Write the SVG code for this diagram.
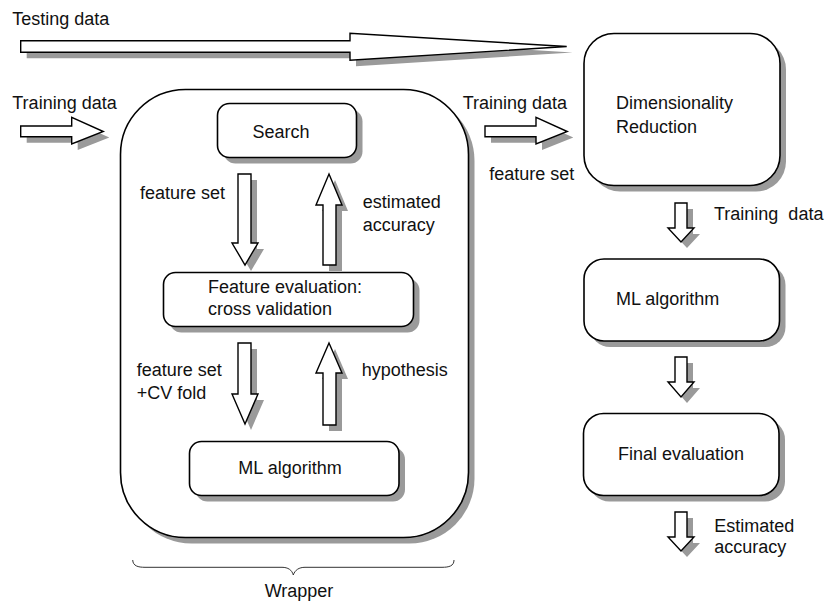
<svg xmlns="http://www.w3.org/2000/svg" xmlns:xlink="http://www.w3.org/1999/xlink" width="829" height="604" viewBox="0 0 829 604">
<style>
  .sh { fill: #9a9a9a; stroke: none; }
  .fg { fill: #ffffff; stroke: #000000; stroke-width: 1.4; stroke-linejoin: miter; }
  .box { fill: #ffffff; stroke: #000000; stroke-width: 1.6; }
  text { font-family: "Liberation Sans", Arial, sans-serif; font-size: 18px; fill: #111111; }
  .mid { text-anchor: middle; }
  .brace { fill: none; stroke: #333333; stroke-width: 1; }
</style>
<defs>
  <polygon id="a-test" points="20.7,40.7 350,40.7 350,33.3 566.7,46.5 350,60.3 350,52.3 20.7,52.3"/>
  <polygon id="a-trainL" points="20.7,126 71.7,126 71.7,117.3 103.3,131.5 71.7,144 71.7,136.7 20.7,136.7"/>
  <polygon id="a-trainR" points="485,126 536,126 536,117.3 567.3,131.5 536,144 536,136.7 485,136.7"/>
  <polygon id="a-d1" points="238,174 251,174 251,243 258,243 245,265 232,243 238,243"/>
  <polygon id="a-u1" points="329,174 342,205 336,205 336,265 323,265 323,205 316,205"/>
  <polygon id="a-d2" points="238,343 251,343 251,394 258,394 245,424 232,394 238,394"/>
  <polygon id="a-u2" points="329,343 342,373 336,373 336,425 323,425 323,373 316,373"/>
  <polygon id="a-r1" points="675,203 687,203 687,228 694,228 681,242 668,228 675,228"/>
  <polygon id="a-r2" points="675,357 687,357 687,382 694,382 681,397 668,382 675,382"/>
  <polygon id="a-r3" points="675,512 687,512 687,537 694,537 681,551 668,537 675,537"/>
</defs>

<g id="wrapper">
  <rect class="sh" x="126.5" y="95.5" width="348" height="448" rx="65" ry="65"/>
  <rect class="box" x="120.5" y="89.5" width="348" height="448" rx="65" ry="65"/>
  <path class="brace" d="M132.7,560 C133,566 138,567.3 145,567.3 L282,567.3 C288,567.3 292,570 293.3,575 C295,570 299,567.3 305,567.3 L442,567.3 C449,567.3 454,566 454,560"/>
  <text class="mid" x="299" y="597">Wrapper</text>
</g>

<g id="search">
  <rect class="sh" x="223.5" y="109.5" width="139" height="54" rx="12" ry="12"/>
  <rect class="box" x="217.5" y="103.5" width="139" height="54" rx="12" ry="12"/>
  <text class="mid" x="281" y="138">Search</text>
</g>

<g id="feature-eval">
  <rect class="sh" x="169.5" y="278.5" width="250" height="54" rx="12" ry="12"/>
  <rect class="box" x="163.5" y="272.5" width="250" height="54" rx="12" ry="12"/>
  <text x="208" y="292.7">Feature evaluation:</text>
  <text x="208" y="315">cross validation</text>
</g>

<g id="ml-inner">
  <rect class="sh" x="195.5" y="447.5" width="209.5" height="54" rx="12" ry="12"/>
  <rect class="box" x="189.5" y="441.5" width="209.5" height="54" rx="12" ry="12"/>
  <text class="mid" x="290" y="474">ML algorithm</text>
</g>

<g id="dim-reduction">
  <rect class="sh" x="590" y="39.5" width="196" height="152" rx="30" ry="30"/>
  <rect class="box" x="584" y="33.5" width="196" height="152" rx="30" ry="30"/>
  <text x="616" y="109.3">Dimensionality</text>
  <text x="616" y="132.7">Reduction</text>
</g>

<g id="ml-right">
  <rect class="sh" x="590" y="265" width="195.5" height="82" rx="20" ry="20"/>
  <rect class="box" x="584" y="259" width="195.5" height="82" rx="20" ry="20"/>
  <text x="616" y="305">ML algorithm</text>
</g>

<g id="final-eval">
  <rect class="sh" x="589.5" y="419.5" width="195.5" height="82" rx="20" ry="20"/>
  <rect class="box" x="583.5" y="413.5" width="195.5" height="82" rx="20" ry="20"/>
  <text class="mid" x="681" y="460">Final evaluation</text>
</g>

<g id="connectors">
  <use xlink:href="#a-test" class="sh" transform="translate(6,6)"/>
  <use xlink:href="#a-test" class="fg"/>
  <use xlink:href="#a-trainL" class="sh" transform="translate(6,6)"/>
  <use xlink:href="#a-trainL" class="fg"/>
  <use xlink:href="#a-trainR" class="sh" transform="translate(6,6)"/>
  <use xlink:href="#a-trainR" class="fg"/>
  <use xlink:href="#a-d1" class="sh" transform="translate(6,6)"/>
  <use xlink:href="#a-d1" class="fg"/>
  <use xlink:href="#a-u1" class="sh" transform="translate(6,6)"/>
  <use xlink:href="#a-u1" class="fg"/>
  <use xlink:href="#a-d2" class="sh" transform="translate(6,6)"/>
  <use xlink:href="#a-d2" class="fg"/>
  <use xlink:href="#a-u2" class="sh" transform="translate(6,6)"/>
  <use xlink:href="#a-u2" class="fg"/>
  <use xlink:href="#a-r1" class="sh" transform="translate(6,6)"/>
  <use xlink:href="#a-r1" class="fg"/>
  <use xlink:href="#a-r2" class="sh" transform="translate(6,6)"/>
  <use xlink:href="#a-r2" class="fg"/>
  <use xlink:href="#a-r3" class="sh" transform="translate(6,6)"/>
  <use xlink:href="#a-r3" class="fg"/>
</g>

<g id="labels">
  <text x="12.3" y="25">Testing data</text>
  <text x="12.3" y="109.3">Training data</text>
  <text x="140" y="199">feature set</text>
  <text x="362.7" y="207.7">estimated</text>
  <text x="362.7" y="230.7">accuracy</text>
  <text x="136.7" y="376">feature set</text>
  <text x="136.7" y="399.3">+CV fold</text>
  <text x="361.7" y="376">hypothesis</text>
  <text x="462.7" y="109.3">Training data</text>
  <text x="489.3" y="180">feature set</text>
  <text x="714" y="220" xml:space="preserve">Training  data</text>
  <text x="714.3" y="531.7">Estimated</text>
  <text x="714.3" y="553.3">accuracy</text>
</g>
</svg>
